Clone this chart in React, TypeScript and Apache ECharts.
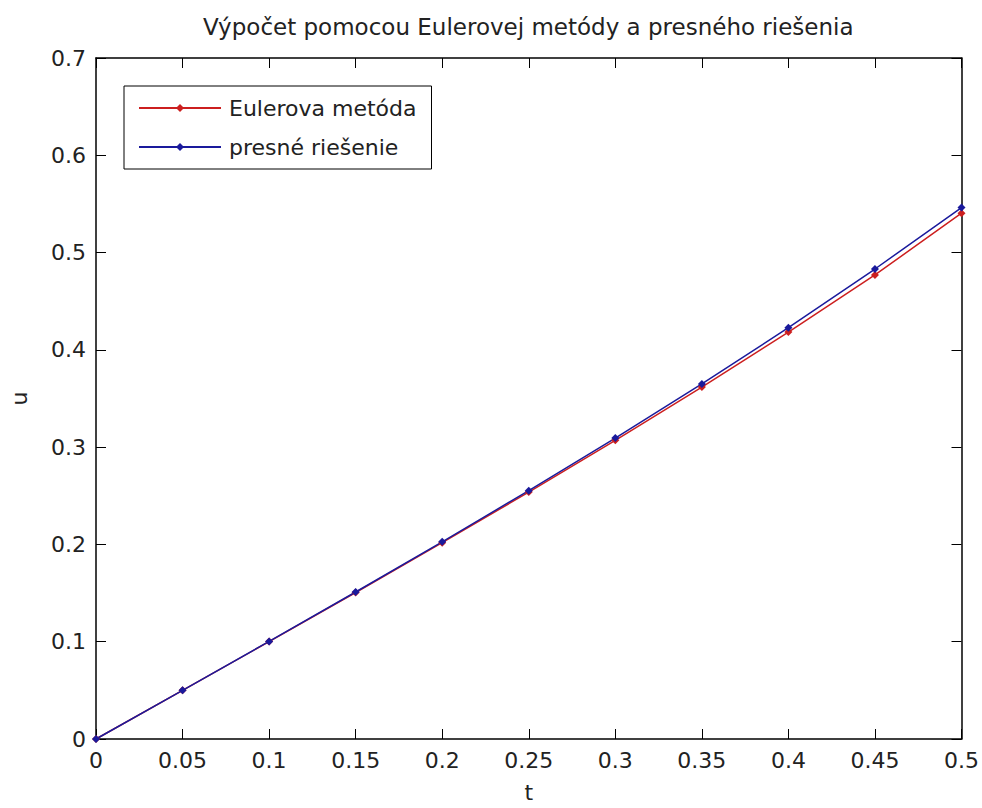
import React, { useEffect, useRef } from "react";
import * as echarts from "echarts";

const tValues = [0, 0.05, 0.1, 0.15, 0.2, 0.25, 0.3, 0.35, 0.4, 0.45, 0.5];
const eulerValues = [0, 0.05, 0.1001, 0.1506, 0.2018, 0.2538, 0.307, 0.3617, 0.4183, 0.477, 0.5405];
const exactValues = [0, 0.05, 0.1003, 0.1511, 0.2027, 0.2553, 0.3093, 0.365, 0.4228, 0.4831, 0.5463];
const seriesNames = ["Eulerova metóda", "presné riešenie"];
const titleText = "Výpočet pomocou Eulerovej metódy a presného riešenia";

const FONT = "DejaVu Sans";

export default function App() {
  const ref = useRef<HTMLDivElement>(null);
  useEffect(() => {
    if (!ref.current) return;
    const chart = echarts.init(ref.current, undefined, { renderer: "svg" });
    const tick = { show: true, inside: true, length: 10, lineStyle: { color: "#000", width: 1 } };
    const axisLine = { show: true, onZero: false, lineStyle: { color: "#000", width: 1.5 } };
    const label = { fontFamily: FONT, fontSize: 22, color: "#222" };
    chart.setOption({
      animation: false,
      backgroundColor: "#fff",
      title: {
        text: titleText,
        left: 198,
        top: 10,
        textStyle: { fontFamily: FONT, fontSize: 23, fontWeight: "normal", color: "#222" },
      },
      legend: {
        orient: "vertical",
        left: 124,
        top: 86,
        padding: [10, 15, 10, 14],
        itemGap: 15,
        itemWidth: 82,
        itemHeight: 10,
        backgroundColor: "#fff",
        borderColor: "#000",
        borderWidth: 1,
        textStyle: { fontFamily: FONT, fontSize: 22, color: "#222", padding: [0, 0, 0, 3], lineHeight: 24 },
        data: seriesNames,
      },
      grid: { left: 90, right: 20, top: 58, bottom: 66 },
      xAxis: [
        {
          type: "value",
          min: 0,
          max: 0.5,
          interval: 0.05,
          position: "bottom",
          name: "t",
          nameLocation: "middle",
          nameGap: 42,
          nameTextStyle: { fontFamily: FONT, fontSize: 22, color: "#222" },
          axisLine,
          axisTick: tick,
          axisLabel: { ...label, margin: 10 },
          splitLine: { show: false },
        },
        {
          type: "value",
          min: 0,
          max: 0.5,
          interval: 0.05,
          position: "top",
          axisLine,
          axisTick: tick,
          axisLabel: { show: false },
          splitLine: { show: false },
        },
      ],
      yAxis: [
        {
          type: "value",
          min: 0,
          max: 0.7,
          interval: 0.1,
          position: "left",
          name: "u",
          nameLocation: "middle",
          nameGap: 66,
          nameTextStyle: { fontFamily: FONT, fontSize: 22, color: "#222" },
          axisLine,
          axisTick: tick,
          axisLabel: { ...label, margin: 10 },
          splitLine: { show: false },
        },
        {
          type: "value",
          min: 0,
          max: 0.7,
          interval: 0.1,
          position: "right",
          axisLine,
          axisTick: tick,
          axisLabel: { show: false },
          splitLine: { show: false },
        },
      ],
      series: [
        {
          name: seriesNames[0],
          type: "line",
          xAxisIndex: 0,
          yAxisIndex: 0,
          data: tValues.map((t, i) => [t, eulerValues[i]]),
          symbol: "diamond",
          symbolSize: 8,
          showAllSymbol: true,
          lineStyle: { color: "#cc1f1f", width: 1.5 },
          itemStyle: { color: "#cc1f1f" },
        },
        {
          name: seriesNames[1],
          type: "line",
          xAxisIndex: 0,
          yAxisIndex: 0,
          data: tValues.map((t, i) => [t, exactValues[i]]),
          symbol: "diamond",
          symbolSize: 8,
          showAllSymbol: true,
          lineStyle: { color: "#1a1a9c", width: 1.5 },
          itemStyle: { color: "#1a1a9c" },
        },
      ],
    });
    return () => chart.dispose();
  }, []);
  return (
    <div
      ref={ref}
      style={{ position: "fixed", left: 0, top: 0, width: 982, height: 808, background: "#fff" }}
    />
  );
}
